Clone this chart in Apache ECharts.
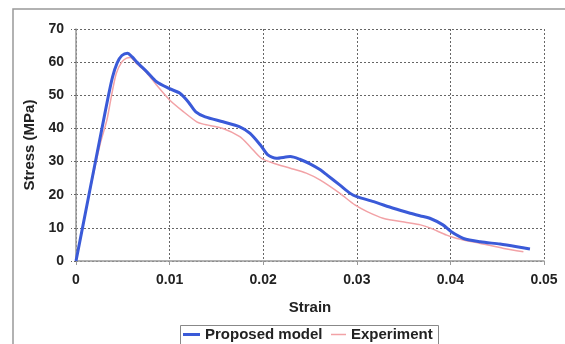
<!DOCTYPE html>
<html>
<head>
<meta charset="utf-8">
<script src="https://cdn.jsdelivr.net/npm/echarts@6/dist/echarts.min.js"></script>
<style>
  html, body { margin: 0; padding: 0; background: #fff; }
  #chart { width: 565px; height: 344px; }
</style>
</head>
<body>
<div id="chart"></div>
<script>
// Stress-strain response: proposed model vs. experiment
const seriesNames = ['Proposed model', 'Experiment'];

const proposedStrain = [0, 0.0014, 0.0028, 0.0034, 0.0039, 0.0044, 0.0049, 0.0055, 0.0060, 0.0065, 0.0076,
  0.0086, 0.0100, 0.0111, 0.0120, 0.0128, 0.0138, 0.0157, 0.0175, 0.0186, 0.0197,
  0.0205, 0.0214, 0.0229, 0.0239, 0.0250, 0.0261, 0.0268, 0.0282, 0.0293, 0.0300,
  0.0318, 0.0339, 0.0357, 0.0368, 0.0378, 0.0392, 0.0401, 0.0414, 0.0432, 0.0453,
  0.0471, 0.0485];
const proposedStress = [0, 20.2, 40.4, 49, 55.5, 59.8, 62.0, 62.7, 61.6, 60.0, 57.0,
  54.1, 52.0, 50.6, 48.0, 45.0, 43.5, 42.0, 40.5, 38.5, 35.0,
  32.0, 31.0, 31.5, 30.7, 29.3, 27.5, 26.0, 22.9, 20.4, 19.4,
  17.9, 15.9, 14.4, 13.6, 12.9, 10.9, 8.8, 6.8, 5.8, 5.1,
  4.3, 3.6];

const experimentStrain = [0, 0.0014, 0.0026, 0.0033, 0.0038, 0.0043, 0.0049, 0.0054, 0.0058, 0.0065, 0.0076, 0.0086,
  0.0100, 0.0115, 0.0129, 0.0136, 0.0157, 0.0175, 0.0186, 0.0198, 0.0211, 0.0229,
  0.0246, 0.0261, 0.0282, 0.0298, 0.0311, 0.0328, 0.0353, 0.0368, 0.0378, 0.0396,
  0.0407, 0.0432, 0.0457, 0.0478];
const experimentStress = [0, 20, 35.5, 42.5, 50, 56.6, 60.1, 61.2, 61.4, 59.5, 56.6, 53.1,
  48.6, 45.0, 42.0, 41.3, 40.0, 37.5, 34.5, 31.0, 29.5, 28.0,
  26.5, 24.4, 20.4, 16.9, 14.9, 12.9, 11.6, 10.9, 10.0, 7.8,
  6.8, 5.3, 3.8, 2.8];

const xTicks = { min: 0, max: 0.05, step: 0.01 };
const yTicks = { min: 0, max: 70, step: 10 };

const pairs = (xs, ys) => xs.map((x, i) => [x, ys[i]]);

const fontFamily = '"Liberation Sans", Arial, sans-serif';
const gridDash = { color: '#666', width: 1, type: [2, 2] };
const blue = '#3a5ad8';
const pink = '#f2a2a6';
const legendText = { fontFamily, fontSize: 15, fontWeight: 'bold', color: '#222' };

const chart = echarts.init(document.getElementById('chart'), null, { renderer: 'canvas' });
chart.setOption({
  backgroundColor: '#fff',
  animation: false,
  textStyle: { fontFamily },
  graphic: [
    {
      type: 'rect',
      shape: { x: 13, y: 9, width: 600, height: 400 },
      style: { fill: 'none', stroke: '#999', lineWidth: 1.5 },
      silent: true
    },
    {
      type: 'rect',
      shape: { x: 180.5, y: 325.5, width: 258, height: 30 },
      style: { fill: 'none', stroke: '#888', lineWidth: 1 },
      silent: true
    }
  ],
  grid: { left: 76, right: 21, top: 29, bottom: 83 },
  legend: [
    {
      data: [seriesNames[0]],
      left: 183, top: 327, padding: 0,
      icon: 'rect', itemWidth: 17, itemHeight: 3, itemGap: 0,
      textStyle: legendText
    },
    {
      data: [seriesNames[1]],
      left: 331, top: 327, padding: 0,
      icon: 'rect', itemWidth: 15, itemHeight: 1.5, itemGap: 0,
      textStyle: legendText
    }
  ],
  xAxis: {
    type: 'value',
    min: xTicks.min, max: xTicks.max, interval: xTicks.step,
    name: 'Strain',
    nameLocation: 'middle',
    nameGap: 39,
    nameTextStyle: { fontFamily, fontSize: 15, fontWeight: 'bold', color: '#222' },
    axisLine: { show: true, onZero: false, lineStyle: { color: '#999', width: 1.5 } },
    axisTick: { show: true, length: 4, lineStyle: { color: '#999' } },
    axisLabel: { margin: 12, fontFamily, fontSize: 14, fontWeight: 'bold', color: '#222',
      formatter: v => (v === 0 ? '0' : v.toFixed(2)) },
    splitLine: { show: true, lineStyle: gridDash }
  },
  yAxis: {
    type: 'value',
    min: yTicks.min, max: yTicks.max, interval: yTicks.step,
    name: 'Stress (MPa)',
    nameLocation: 'middle',
    nameGap: 38,
    nameTextStyle: { fontFamily, fontSize: 15, fontWeight: 'bold', color: '#222' },
    axisLine: { show: true, lineStyle: { color: '#999', width: 1.5 } },
    axisTick: { show: true, length: 5, lineStyle: gridDash },
    axisLabel: { margin: 12, fontFamily, fontSize: 14, fontWeight: 'bold', color: '#222' },
    splitLine: { show: true, lineStyle: gridDash }
  },
  series: [
    {
      name: seriesNames[0],
      type: 'line',
      data: pairs(proposedStrain, proposedStress),
      showSymbol: false,
      symbol: 'none',
      smooth: 0.25,
      z: 3,
      itemStyle: { color: blue },
      lineStyle: { color: blue, width: 3 }
    },
    {
      name: seriesNames[1],
      type: 'line',
      data: pairs(experimentStrain, experimentStress),
      showSymbol: false,
      symbol: 'none',
      smooth: 0.25,
      z: 2,
      itemStyle: { color: pink },
      lineStyle: { color: pink, width: 1.5 }
    }
  ]
});
</script>
</body>
</html>
